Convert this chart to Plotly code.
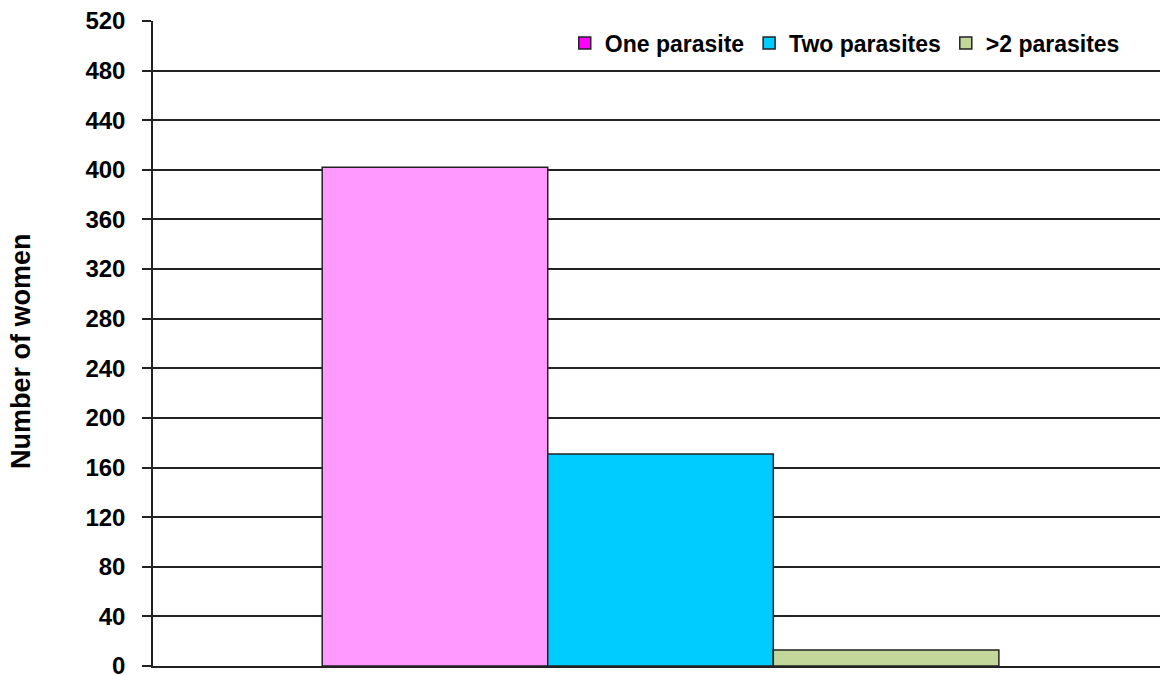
import plotly.graph_objects as go

# Women grouped by number of intestinal parasites detected
category = [""]
series_names = ["One parasite", "Two parasites", ">2 parasites"]
series_values = [[402], [171], [13]]
bar_colors = ["#FF99FF", "#00CCFF", "#C4D79B"]
legend_colors = ["#FF00FF", "#00CCFF", "#C4D79B"]
y_ticks = list(range(0, 521, 40))

FONT = "Liberation Sans, Arial, sans-serif"

fig = go.Figure()

for name, vals, col in zip(series_names, series_values, bar_colors):
    fig.add_trace(go.Bar(
        x=category, y=vals, name=name, showlegend=False,
        marker=dict(color=col, line=dict(color="#222222", width=1.5)),
    ))

# Legend entries drawn from a hidden overlay axis so the swatches keep their own colours
for name, col in zip(series_names, legend_colors):
    fig.add_trace(go.Bar(
        x=category, y=[None], name=name, xaxis="x2",
        marker=dict(color=col, line=dict(color="#222222", width=1.5)),
    ))

fig.update_layout(
    width=1163, height=675,
    margin=dict(l=153, r=3, t=21, b=9),
    paper_bgcolor="white", plot_bgcolor="white",
    barmode="group", bargap=0.328, bargroupgap=0,
    font=dict(family=FONT, color="black"),
    xaxis=dict(range=[-0.504, 0.496], showticklabels=False, showgrid=False, showline=True,
               linecolor="#222222", linewidth=1.5, ticks="", zeroline=False,
               automargin=False),
    xaxis2=dict(range=[-0.504, 0.496], overlaying="x", visible=False),
    yaxis=dict(range=[0, 520], tickmode="array", tickvals=y_ticks,
               showgrid=True, gridcolor="#222222", gridwidth=1.5,
               showline=True, linecolor="#222222", linewidth=1.5,
               ticks="outside", ticklen=9, tickcolor="#222222", tickwidth=1.5,
               ticklabelstandoff=12, ticklabeloverflow="allow", zeroline=False,
               automargin=False,
               tickfont=dict(size=24, family=FONT, weight="bold")),
    legend=dict(orientation="h", x=0.965, xanchor="right", y=0.966, yanchor="middle",
                bgcolor="rgba(0,0,0,0)", traceorder="normal",
                font=dict(size=23, family=FONT, weight="bold"), itemwidth=30, tracegroupgap=0),
    showlegend=True,
)

fig.add_annotation(
    text="Number of women", textangle=-90,
    xref="paper", yref="paper", x=(21 - 153) / 1007, y=(666 - 351) / 645,
    xanchor="center", yanchor="middle", showarrow=False,
    font=dict(size=27, family=FONT, weight="bold"),
)

fig.write_html("out.html")
